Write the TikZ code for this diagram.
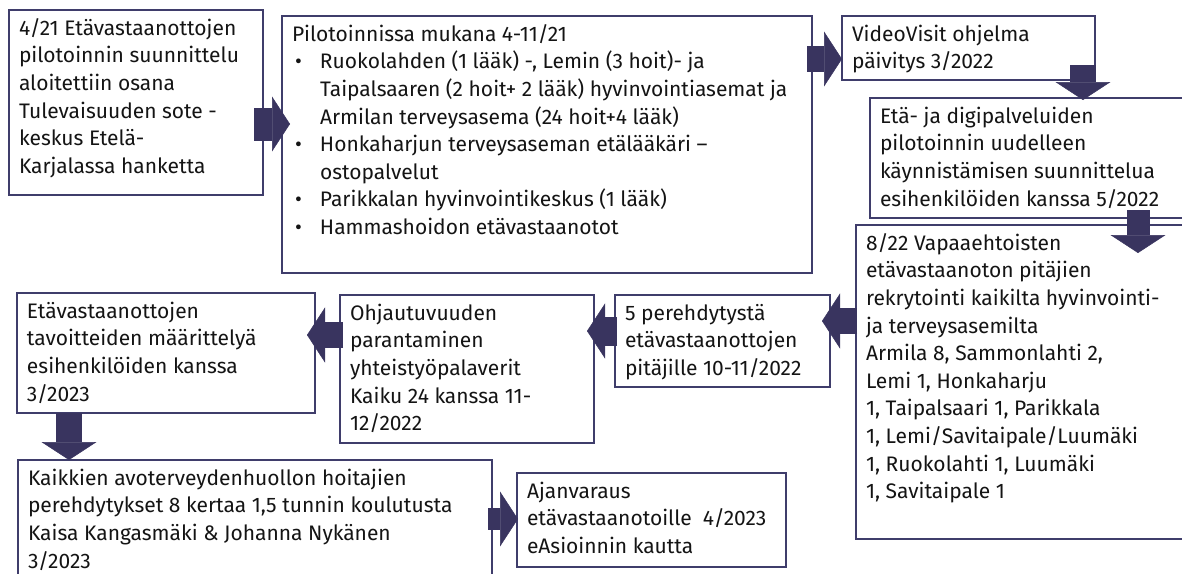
\documentclass[tikz,border=0pt]{standalone}
\usepackage{fontspec}
\setmainfont{Fira Sans}
\usetikzlibrary{arrows.meta}
\usetikzlibrary{calc}

\definecolor{boxline}{HTML}{3F3D6B}
\definecolor{arrowfill}{HTML}{39345F}
\definecolor{textcol}{HTML}{141414}

% box body: width, height (px), text
\newcommand{\boxbody}[3]{\parbox[t][\dimexpr#2pt-12pt\relax][t]{\dimexpr#1pt-20pt\relax}{\strut#3}}
\newcommand{\bul}{\hspace*{3pt}\makebox[25pt][l]{•}}
\newcommand{\cont}{\hspace*{28pt}}

\begin{document}
\begin{tikzpicture}[x=1pt,y=-1pt,
	stepbox/.style={draw=boxline, line width=1.3pt, fill=white, anchor=north west,
		inner xsep=10pt, inner ysep=6pt, outer sep=0pt, text=textcol,
		font=\fontsize{21}{27.6}\selectfont},
	bigarrow/.style={draw=arrowfill, line width=26pt,
		-{Triangle[length=18pt,width=55pt,line width=0.5pt]}}]
	\useasboundingbox (0,0) rectangle (1182,573);

	% boxes
	\node[stepbox] (b1) at (9,10) {\boxbody{254}{185}{4/21 Etävastaanottojen\\pilotoinnin suunnittelu\\aloitettiin osana\\Tulevaisuuden sote -\\keskus Etelä-\\Karjalassa hanketta}};
	\node[stepbox] (b2) at (282,16) {\boxbody{530}{257}{Pilotoinnissa mukana 4-11/21\\
		\bul Ruokolahden (1 lääk) -, Lemin (3 hoit)- ja\\
		\cont Taipalsaaren (2 hoit+ 2 lääk) hyvinvointiasemat ja\\
		\cont Armilan terveysasema (24 hoit+4 lääk)\\
		\bul Honkaharjun terveysaseman etälääkäri –\\
		\cont ostopalvelut\\
		\bul Parikkalan hyvinvointikeskus (1 lääk)\\
		\bul Hammashoidon etävastaanotot}};
	\node[stepbox] (b3) at (842,16) {\boxbody{253}{64}{VideoVisit ohjelma\\päivitys 3/2022}};
	\node[stepbox] (b4) at (870,98) {\boxbody{320}{120}{Etä- ja digipalveluiden\\pilotoinnin uudelleen\\käynnistämisen suunnittelua\\esihenkilöiden kanssa 5/2022}};
	\node[stepbox] (b5) at (856,225) {\boxbody{334}{314}{8/22 Vapaaehtoisten\\etävastaanoton pitäjien\\rekrytointi kaikilta hyvinvointi-\\ja terveysasemilta\\Armila 8, Sammonlahti 2,\\Lemi 1, Honkaharju\\1, Taipalsaari 1, Parikkala\\1, Lemi/Savitaipale/Luumäki\\1, Ruokolahti 1, Luumäki\\1, Savitaipale 1}};
	\node[stepbox] (b6) at (615,295) {\boxbody{215}{92}{5 perehdytystä\\etävastaanottojen\\pitäjille 10-11/2022}};
	\node[stepbox] (b7) at (340,295) {\boxbody{254}{148}{Ohjautuvuuden\\parantaminen\\yhteistyöpalaverit\\Kaiku 24 kanssa 11-\\12/2022}};
	\node[stepbox] (b8) at (17,293) {\boxbody{298}{120}{Etävastaanottojen\\tavoitteiden määrittelyä\\esihenkilöiden kanssa\\3/2023}};
	\node[stepbox] (b9) at (18,460) {\boxbody{474}{130}{Kaikkien avoterveydenhuollon hoitajien\\perehdytykset 8 kertaa 1,5 tunnin koulutusta\\Kaisa Kangasmäki \& Johanna Nykänen\\3/2023}};
	\node[stepbox] (b10) at (517,473) {\boxbody{269}{94}{Ajanvaraus\\etävastaanotoille\ \ 4/2023\\eAsioinnin kautta}};

	% arrows
	\draw[bigarrow, line width=33pt] ($(b1.north east)+(-9,114)$) -- ($(b2.north west)+(8,108)$);
	\draw[bigarrow] ($(b2.north east)+(-5,43)$) -- ($(b3.north west)+(0,43)$);
	\draw[bigarrow] ($(b3.south east)+(-12,-15)$) -- ($(b4.north west)+(213,2)$);
	\draw[bigarrow, line width=23pt] ($(b4.south west)+(268,-8)$) -- ($(b5.north west)+(282,28)$);
	\draw[bigarrow] ($(b5.north west)+(1,96)$) -- ($(b6.north east)+(-8,26)$);
	\draw[bigarrow, line width=29pt] ($(b6.north west)+(2,36)$) -- ($(b7.north east)+(-7,36)$);
	\draw[bigarrow] ($(b7.north west)+(3,40)$) -- ($(b8.north east)+(-8,42)$);
	\draw[bigarrow] ($(b8.south west)+(52,0)$) -- ($(b9.north west)+(51,0)$);
	\draw[bigarrow, line width=22pt] ($(b9.north east)+(-4,59)$) -- ($(b10.north west)+(1,46)$);
\end{tikzpicture}
\end{document}
